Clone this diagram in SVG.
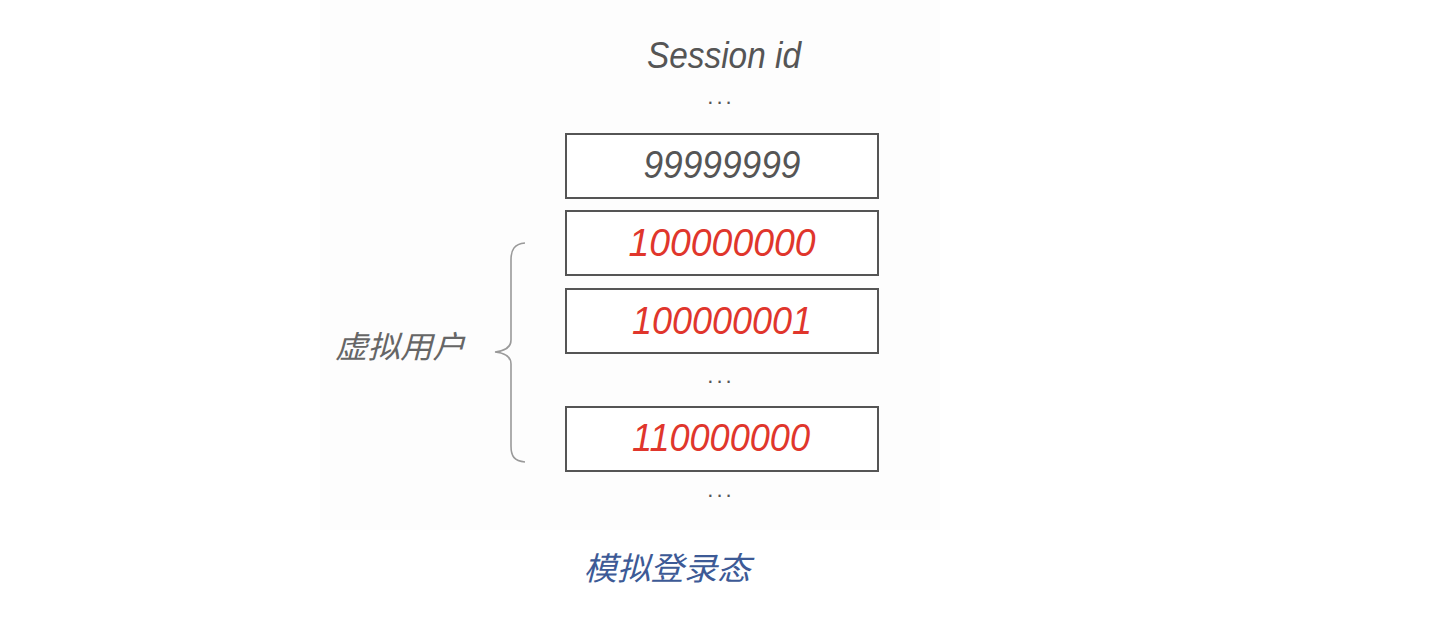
<svg xmlns="http://www.w3.org/2000/svg" width="1454" height="622" viewBox="0 0 1454 622">
<style>
.box{fill:#fff;stroke:#555;stroke-width:2}
.t{font-family:"Liberation Sans","Noto Sans CJK SC",sans-serif;font-style:italic;text-anchor:middle}
.g{fill:#555}
.r{fill:#e0362c}
.dots{font-family:"Liberation Sans",sans-serif;font-size:22px;fill:#555;text-anchor:middle;letter-spacing:3px}
</style>
<rect width="1454" height="622" fill="#fff"/>
<rect x="320" y="0" width="620" height="530" fill="#fdfdfd"/>
<text class="t g" x="724" y="68" font-size="36" textLength="154" lengthAdjust="spacingAndGlyphs">Session id</text>
<text class="dots" x="721" y="104">...</text>
<g id="n1"><rect class="box" x="566" y="134" width="312" height="64"/><text class="t g" x="722" y="178" font-size="38" textLength="157" lengthAdjust="spacingAndGlyphs">99999999</text></g>
<g id="n2"><rect class="box" x="566" y="211" width="312" height="64"/><text class="t r" x="722" y="256" font-size="38" textLength="187" lengthAdjust="spacingAndGlyphs">100000000</text></g>
<g id="n3"><rect class="box" x="566" y="289" width="312" height="64"/><text class="t r" x="722" y="334" font-size="38" textLength="180" lengthAdjust="spacingAndGlyphs">100000001</text></g>
<text class="dots" x="721" y="383">...</text>
<g id="n4"><rect class="box" x="566" y="407" width="312" height="64"/><text class="t r" x="721" y="451" font-size="38" textLength="178" lengthAdjust="spacingAndGlyphs">110000000</text></g>
<text class="dots" x="721" y="497">...</text>
<g id="brace"><path d="M525,243 C514,244 511,250 511,260 L511,340 C511,348 505,351 495,352 C505,353 511,356 511,364 L511,446 C511,456 514,461 525,462" fill="none" stroke="#9a9a9a" stroke-width="1.6"/></g>
<text class="t" x="400" y="358" font-size="31" fill="#666" textLength="130" lengthAdjust="spacingAndGlyphs">虚拟用户</text>
<text class="t" x="667" y="580" font-size="32" fill="#3d5a96" textLength="167" lengthAdjust="spacingAndGlyphs">模拟登录态</text>
</svg>
